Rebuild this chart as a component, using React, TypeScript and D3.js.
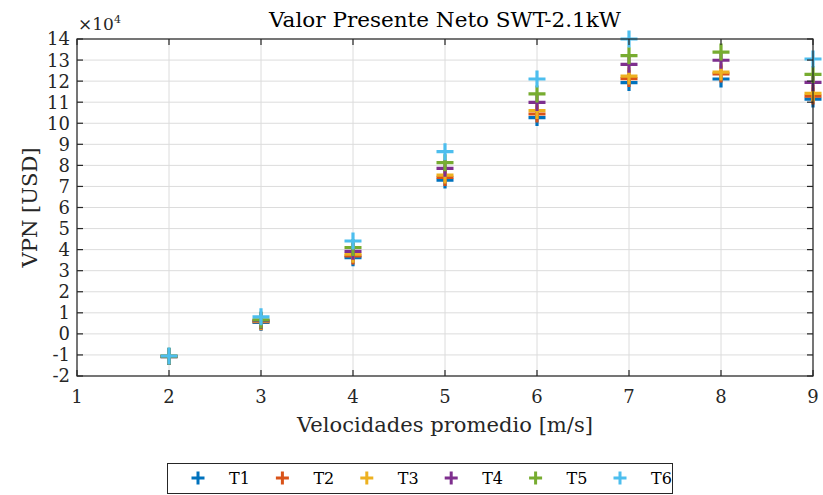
import React, { useEffect, useRef } from 'react';
import * as d3 from 'd3';

// velocidades promedio [m/s]
const speeds = [2, 3, 4, 5, 6, 7, 8, 9];
const seriesNames = ['T1', 'T2', 'T3', 'T4', 'T5', 'T6'];
const seriesColors = ['#0072BD', '#D95319', '#EDB120', '#7E2F8E', '#77AC30', '#4DBEEE'];
// VPN in units of 1e4 USD
const t1 = [-1.08, 0.55, 3.62, 7.30, 10.27, 11.93, 12.10, 11.15];
const t2 = [-1.08, 0.58, 3.70, 7.43, 10.44, 12.12, 12.34, 11.29];
const t3 = [-1.07, 0.6, 3.78, 7.54, 10.60, 12.24, 12.43, 11.42];
const t4 = [-1.07, 0.63, 3.92, 7.86, 10.99, 12.80, 12.99, 11.94];
const t5 = [-1.06, 0.66, 4.10, 8.13, 11.39, 13.21, 13.38, 12.32];
const t6 = [-1.05, 0.81, 4.41, 8.65, 12.10, 14.0, 14.7, 13.05];
const seriesValues = [t1, t2, t3, t4, t5, t6];
const xTicks = [1, 2, 3, 4, 5, 6, 7, 8, 9];
const yTicks = d3.range(-2, 15, 1);

const W = 823;
const H = 495;
const FONT = '"DejaVu Serif", serif';

export default function App() {
  const ref = useRef<SVGSVGElement>(null);

  useEffect(() => {
    if (!ref.current) return;
    const svg = d3.select(ref.current);
    svg.selectAll('*').remove();

    const left = 77, right = 813, top = 39, bottom = 376;
    const x = d3.scaleLinear().domain([1, 9]).range([left, right]);
    const y = d3.scaleLinear().domain([-2, 14]).range([bottom, top]);
    const axisColor = '#262626';

    svg.append('rect').attr('width', W).attr('height', H).attr('fill', '#fff');

    // grid
    const grid = svg.append('g').attr('stroke', '#dcdcdc').attr('stroke-width', 1);
    xTicks.forEach(t => {
      grid.append('line').attr('x1', x(t)).attr('x2', x(t)).attr('y1', top).attr('y2', bottom);
    });
    yTicks.forEach(t => {
      grid.append('line').attr('x1', left).attr('x2', right).attr('y1', y(t)).attr('y2', y(t));
    });

    // markers (values above the y limit are clipped, like MATLAB does)
    const plus = (s: number) => `M${-s / 2},0H${s / 2}M0,${-s / 2}V${s / 2}`;
    const markG = svg.append('g');
    seriesValues.forEach((vals, i) => {
      markG.append('g')
        .selectAll('path')
        .data(vals.map((v, j) => ({ s: speeds[j], v })).filter(d => d.v <= 14.05 && d.v >= -2))
        .join('path')
        .attr('transform', d => `translate(${x(d.s)},${y(d.v)})`)
        .attr('d', plus(17))
        .attr('fill', 'none')
        .attr('stroke', seriesColors[i])
        .attr('stroke-width', 3.2);
    });

    // axes box and ticks
    const ax = svg.append('g').attr('stroke', axisColor).attr('stroke-width', 1.2).attr('fill', 'none');
    ax.append('rect').attr('x', left).attr('y', top).attr('width', right - left).attr('height', bottom - top);
    xTicks.forEach(t => {
      ax.append('line').attr('x1', x(t)).attr('x2', x(t)).attr('y1', bottom).attr('y2', bottom - 6);
      ax.append('line').attr('x1', x(t)).attr('x2', x(t)).attr('y1', top).attr('y2', top + 6);
    });
    yTicks.forEach(t => {
      ax.append('line').attr('x1', left).attr('x2', left + 6).attr('y1', y(t)).attr('y2', y(t));
      ax.append('line').attr('x1', right).attr('x2', right - 6).attr('y1', y(t)).attr('y2', y(t));
    });

    // tick labels
    const txt = svg.append('g').attr('font-family', FONT).attr('fill', '#262626');
    xTicks.forEach(t => {
      txt.append('text').attr('x', x(t)).attr('y', 403).attr('text-anchor', 'middle')
        .attr('font-size', 18).text(String(t));
    });
    yTicks.forEach(t => {
      txt.append('text').attr('x', 70).attr('y', y(t)).attr('dy', '0.36em').attr('text-anchor', 'end')
        .attr('font-size', 18).text(String(t));
    });
    const mult = txt.append('text').attr('x', 78).attr('y', 30).attr('font-size', 17);
    mult.append('tspan').text('×10');
    mult.append('tspan').attr('font-size', 11).attr('dy', -7).text('4');

    // title and labels
    txt.append('text').attr('x', (left + right) / 2).attr('y', 27).attr('text-anchor', 'middle')
      .attr('font-size', 20).attr('fill', '#000')
      .attr('textLength', 352).attr('lengthAdjust', 'spacingAndGlyphs')
      .text('Valor Presente Neto SWT-2.1kW');
    txt.append('text').attr('x', (left + right) / 2).attr('y', 432).attr('text-anchor', 'middle')
      .attr('font-size', 20).attr('textLength', 296).attr('lengthAdjust', 'spacingAndGlyphs')
      .text('Velocidades promedio [m/s]');
    txt.append('text').attr('transform', `translate(37,${(top + bottom) / 2}) rotate(-90)`)
      .attr('text-anchor', 'middle').attr('font-size', 20)
      .attr('textLength', 120).attr('lengthAdjust', 'spacingAndGlyphs')
      .text('VPN [USD]');

    // legend
    const lg = svg.append('g');
    lg.append('rect').attr('x', 167.5).attr('y', 463.5).attr('width', 505).attr('height', 30)
      .attr('fill', '#fff').attr('stroke', axisColor).attr('stroke-width', 1);
    seriesNames.forEach((name, i) => {
      const cx = 198 + i * 84.4;
      lg.append('path').attr('transform', `translate(${cx},478)`).attr('d', plus(13))
        .attr('fill', 'none').attr('stroke', seriesColors[i]).attr('stroke-width', 3);
      lg.append('text').attr('x', cx + 31).attr('y', 478).attr('dy', '0.36em')
        .attr('font-family', FONT).attr('font-size', 16).attr('fill', '#000').text(name);
    });
  }, []);

  return <svg ref={ref} width={W} height={H} style={{ position: 'absolute', left: 0, top: 0 }} />;
}
